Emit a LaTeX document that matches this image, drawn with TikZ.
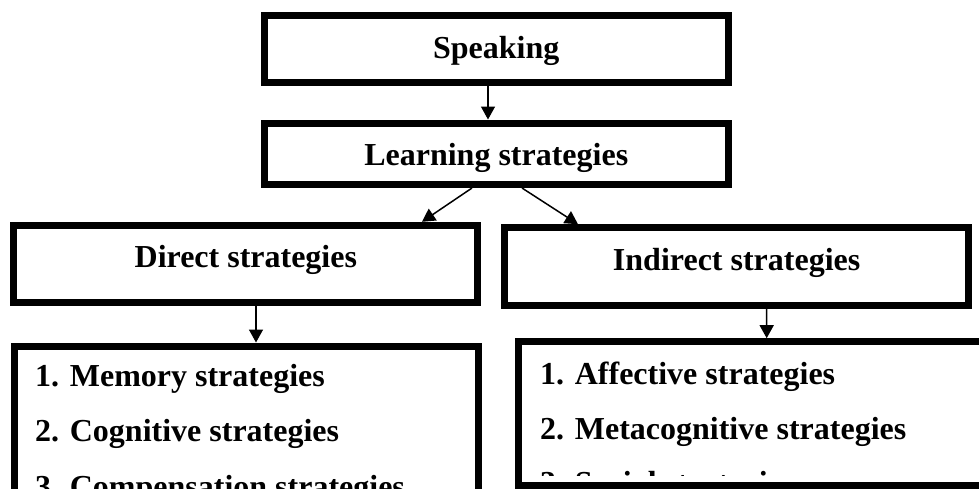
\documentclass[tikz,border=0pt]{standalone}
\usepackage{fontspec}
\setmainfont{Liberation Serif}
\usetikzlibrary{arrows.meta}

\begin{document}
\begin{tikzpicture}[x=1pt, y=-1pt,
        box/.style={draw, line width=7pt, outer sep=3.5pt, inner sep=0pt, minimum width=464pt, text depth=0pt, font=\bfseries\fontsize{32}{38}\selectfont},
        item/.style={anchor=base west, inner sep=0pt, font=\bfseries\fontsize{32}{38}\selectfont},
        link/.style={-{Triangle[length=13pt,width=14pt]}, line width=1.5pt}]
    \useasboundingbox (0,0) rectangle (979,488);
    \clip (0,0) rectangle (979,488);

    \node[box, minimum height=67.5pt, text height=19.5pt] (speak) at (496.25,48.75) {Speaking};
    \node[box, minimum height=61.5pt, text height=22.5pt] (learn) at (496.25,153.75) {Learning strategies};
    \node[box, minimum height=77.4pt, text height=6.6pt] (direct) at (245.85,264) {Direct strategies};
    \node[box, minimum height=77.3pt, text height=7.3pt] (indirect) at (736.65,266.35) {Indirect strategies};
    \node[box, minimum height=200pt] (dlist) at (246,446) {};
    \node[box, minimum height=143.3pt] (ilist) at (750.3,413.35) {};

    \node[item] (mem) at (35,386.5) {1. Memory strategies};
    \node[item] (cog) at (35,441.5) {2. Cognitive strategies};
    \node[item] (comp) at (35,497.5) {3. Compensation strategies};
    \node[item] (aff) at (540,384.5) {1. Affective strategies};
    \node[item] (meta) at (540,439) {2. Metacognitive strategies};
    % third line is hidden by the frame of the text box
    \begin{scope}
        \clip (522,345) rectangle (979,475);
        \node[item] (soc) at (540,493.5) {3. Social strategies};
    \end{scope}

    \draw[link] ([xshift=-8.25pt]speak.south) -- ([xshift=-8.25pt]learn.north);
    \draw[link] ([xshift=-24.25pt]learn.south) -- ([xshift=176.15pt]direct.north);
    \draw[link] ([xshift=25.75pt]learn.south) -- ([xshift=-158.65pt]indirect.north);
    \draw[link] ([xshift=10.15pt]direct.south) -- ([xshift=10pt]dlist.north);
    \draw[link] ([xshift=30pt]indirect.south) -- ([xshift=16.4pt]ilist.north);
\end{tikzpicture}
\end{document}
